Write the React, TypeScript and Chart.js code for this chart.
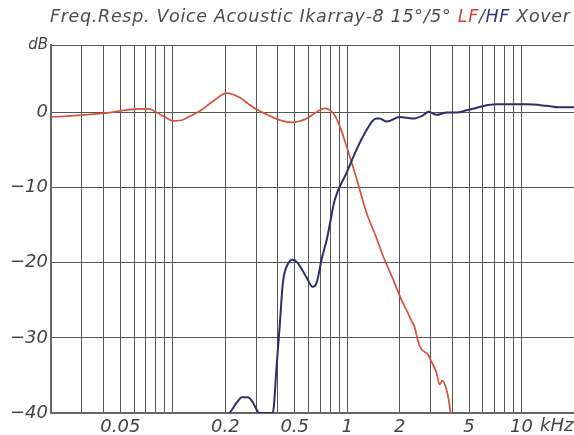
import React, { useEffect, useRef } from "react";
import { Chart, registerables } from "chart.js";

Chart.register(...registerables);

// ---------- data ----------
const lfFreq = [20, 30, 42, 55, 65, 74, 81, 90, 100, 110, 125, 143, 170, 204, 242, 270, 303, 350, 410, 487, 540, 586, 660, 743, 800, 850, 906, 993, 1129, 1289, 1450, 1607, 1833, 2045, 2200, 2334, 2438, 2548, 2663, 2904, 3037, 3248, 3390, 3513, 3706, 3819, 3918];
const lfDb = [-0.6, -0.35, -0.05, 0.35, 0.5, 0.45, 0, -0.6, -1.1, -1.05, -0.5, 0.2, 1.5, 2.6, 2.0, 1.2, 0.4, -0.3, -1.0, -1.3, -1.1, -0.8, 0, 0.55, 0.3, -0.4, -1.8, -4.5, -8.7, -13.3, -16.3, -19.1, -22.2, -24.9, -26.4, -27.7, -28.6, -30.4, -31.5, -32.2, -33.1, -34.6, -36.2, -35.7, -36.8, -38.2, -40];

const hfFreq = [212, 218, 233, 249, 269, 288, 303, 311, 374, 394, 410, 428, 456, 487, 520, 586, 634, 669, 714, 764, 849, 993, 1133, 1293, 1400, 1476, 1535, 1686, 2000, 2372, 2711, 2932, 3259, 3717, 4244, 4844, 5250, 6139, 7193, 8888, 10690, 13910, 16520, 20000];
const hfDb = [-40, -39.6, -38.6, -37.9, -37.9, -38.6, -39.6, -40, -40, -33.7, -28.4, -22.6, -20.2, -19.6, -20.0, -22.0, -23.2, -22.6, -19.5, -16.9, -11.6, -8.0, -4.9, -2.3, -1.1, -0.8, -0.8, -1.2, -0.6, -0.8, -0.4, 0.1, -0.3, 0, 0, 0.3, 0.5, 0.9, 1.1, 1.1, 1.1, 0.9, 0.7, 0.7];

const xGridValues = [30, 40, 50, 60, 70, 80, 90, 100, 200, 300, 400, 500, 600, 700, 800, 900, 1000, 2000, 3000, 4000, 5000, 6000, 7000, 8000, 9000, 10000];
const xLabelValues = [50, 200, 500, 1000, 2000, 5000, 10000];
const xLabelTexts = ["0.05", "0.2", "0.5", "1", "2", "5", "10"];
const xUnit = "kHz";

const yTickValues = [-40, -30, -20, -10, 0, 9];
const yUnit = "dB";

const titleParts = [
  { text: "Freq.Resp. Voice Acoustic Ikarray-8 15°/5° ", color: "#4d4d4d" },
  { text: "LF", color: "#d8432f" },
  { text: "/", color: "#4d4d4d" },
  { text: "HF", color: "#2c3580" },
  { text: " Xover", color: "#4d4d4d" },
];

const RED = "#d9503c";
const BLUE = "#2c2e6e";
const GRID = "#555555";
const TEXT = "#444444";

const titlePlugin = {
  id: "segTitle",
  afterDraw(chart: any) {
    const ctx = chart.ctx;
    ctx.save();
    ctx.font = 'italic 17.5px "DejaVu Sans"';
    ctx.textBaseline = "alphabetic";
    ctx.textAlign = "left";
    const chars: { ch: string; color: string; w: number }[] = [];
    titleParts.forEach((p) => {
      for (const ch of p.text) chars.push({ ch, color: p.color, w: ctx.measureText(ch).width });
    });
    const natural = chars.reduce((s, c) => s + c.w, 0);
    const start = 50;
    const end = 570;
    const extra = (end - start - natural) / (chars.length - 1);
    let x = start;
    chars.forEach((c) => {
      ctx.fillStyle = c.color;
      ctx.fillText(c.ch, x, 22);
      x += c.w + extra;
    });

    // unit next to last x label
    const xs = chart.scales.x;
    const px = xs.getPixelForValue(10000);
    ctx.font = 'italic 18px "DejaVu Sans"';
    const w10 = ctx.measureText("10").width;
    ctx.fillStyle = TEXT;
    ctx.textBaseline = "top";
    ctx.fillText(xUnit, px + w10 / 2 + 7, chart.chartArea.bottom + 4);
    ctx.restore();
  },
};

export default function App() {
  const ref = useRef<HTMLCanvasElement | null>(null);
  useEffect(() => {
    if (!ref.current) return;
    const chart = new Chart(ref.current, {
      type: "line",
      data: {
        datasets: [
          {
            label: "HF",
            data: hfFreq.map((f, i) => ({ x: f, y: hfDb[i] })),
            borderColor: BLUE,
            borderWidth: 2,
            pointRadius: 0,
            cubicInterpolationMode: "monotone",
            fill: false,
          },
          {
            label: "LF",
            data: lfFreq.map((f, i) => ({ x: f, y: lfDb[i] })),
            borderColor: RED,
            borderWidth: 1.7,
            pointRadius: 0,
            cubicInterpolationMode: "monotone",
            fill: false,
          },
        ],
      },
      options: {
        animation: false,
        responsive: true,
        maintainAspectRatio: false,
        layout: { padding: { top: 45, left: 0, right: 0, bottom: 0 } },
        plugins: { legend: { display: false }, tooltip: { enabled: false }, title: { display: false } },
        scales: {
          x: {
            type: "logarithmic",
            min: 20,
            max: 20000,
            afterBuildTicks: (scale: any) => {
              scale.ticks = xGridValues.map((v) => ({ value: v }));
            },
            afterFit: (scale: any) => {
              scale.height = 22;
            },
            ticks: {
              autoSkip: false,
              maxRotation: 0,
              minRotation: 0,
              padding: 4,
              color: TEXT,
              font: { family: "DejaVu Sans", size: 18, style: "italic" },
              callback: (value: any) => {
                const i = xLabelValues.indexOf(Number(value));
                return i >= 0 ? xLabelTexts[i] : "";
              },
            },
            grid: { color: GRID, lineWidth: 1, drawTicks: false },
            border: { display: true, color: "#666666", width: 2 },
          },
          y: {
            type: "linear",
            min: -40,
            max: 9,
            afterBuildTicks: (scale: any) => {
              scale.ticks = yTickValues.map((v) => ({ value: v }));
            },
            afterFit: (scale: any) => {
              scale.width = 51;
            },
            ticks: {
              padding: 3,
              color: TEXT,
              font: (ctx: any) =>
                ctx.tick && ctx.tick.value === 9
                  ? { family: "DejaVu Sans", size: 15, style: "italic" }
                  : { family: "DejaVu Sans", size: 18, style: "italic" },
              callback: (value: any) => {
                const v = Number(value);
                if (v === 9) return yUnit;
                if (v === 0) return "0";
                return "\u2212" + Math.abs(v);
              },
            },
            grid: {
              color: (ctx: any) => (ctx.tick && ctx.tick.value === -40 ? "rgba(0,0,0,0)" : GRID),
              lineWidth: 1,
              drawTicks: false,
            },
            border: { display: true, color: "#666666", width: 2 },
          },
        },
      },
      plugins: [titlePlugin],
    } as any);
    return () => chart.destroy();
  }, []);
  return (
    <div style={{ position: "fixed", left: 0, top: 0, width: 574, height: 435, background: "#fff" }}>
      <canvas ref={ref} />
    </div>
  );
}
